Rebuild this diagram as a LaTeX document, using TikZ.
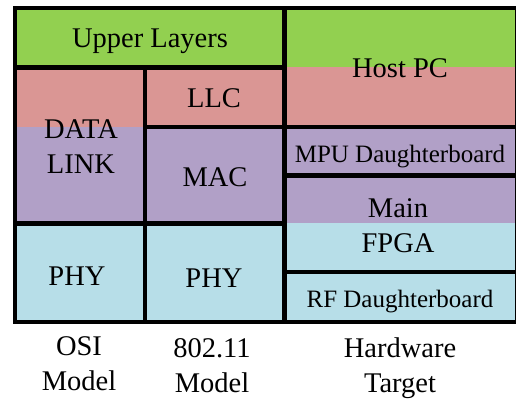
\documentclass[tikz,border=0pt]{standalone}
\usepackage{fontspec}
\setmainfont{Liberation Serif}
\definecolor{uppergreen}{HTML}{92D050}
\definecolor{llcred}{HTML}{DA9694}
\definecolor{macpurple}{HTML}{B1A0C7}
\definecolor{phyblue}{HTML}{B7DEE8}
\tikzset{
  rule/.style={line width=4.3pt},
  lbl/.style={anchor=base, align=center, inner sep=0pt, font=\fontsize{28.5}{35}\selectfont},
  smalllbl/.style={lbl, font=\fontsize{25}{30}\selectfont}
}
\begin{document}
\begin{tikzpicture}[x=1pt,y=-1pt]
  \useasboundingbox (0,0) rectangle (516,401);
  \fill [uppergreen] (15,8) rectangle (517,67);
  \fill [llcred] (15,67) rectangle (517,127);
  \fill [macpurple] (15,127) rectangle (517,223);
  \fill [phyblue] (15,223) rectangle (517,322);
  \draw [rule] (15,8) rectangle (517,322);
  \draw [rule] (15,67.5) -- (284.5,67.5);
  \draw [rule] (145.3,67.5) -- (145.3,322);
  \draw [rule] (284.5,8) -- (284.5,322);
  \draw [rule] (145.3,127.2) -- (517,127.2);
  \draw [rule] (15,223.5) -- (284.5,223.5);
  \draw [rule] (284.5,175.5) -- (517,175.5);
  \draw [rule] (284.5,271.7) -- (517,271.7);
  \node [lbl] (upper) at (150,48) {Upper Layers};
  \node [lbl] (host) at (400,78) {Host PC};
  \node [lbl] (llc) at (214,108) {LLC};
  \node [lbl] (datalink) at (81,173) {DATA\\LINK};
  \node [lbl] (mac) at (215,186) {MAC};
  \node [smalllbl] (mpu) at (400,162) {MPU Daughterboard};
  \node [lbl] (mainfpga) at (398,252) {Main\\FPGA};
  \node [lbl] (phyosi) at (77,285) {PHY};
  \node [lbl] (phywifi) at (214,287) {PHY};
  \node [smalllbl] (rf) at (400,307) {RF Daughterboard};
  \node [lbl] (osi) at (79,390) {OSI\\Model};
  \node [lbl] (wifi) at (212,392) {802.11\\Model};
  \node [lbl] (target) at (400,392) {Hardware\\Target};
\end{tikzpicture}
\end{document}
